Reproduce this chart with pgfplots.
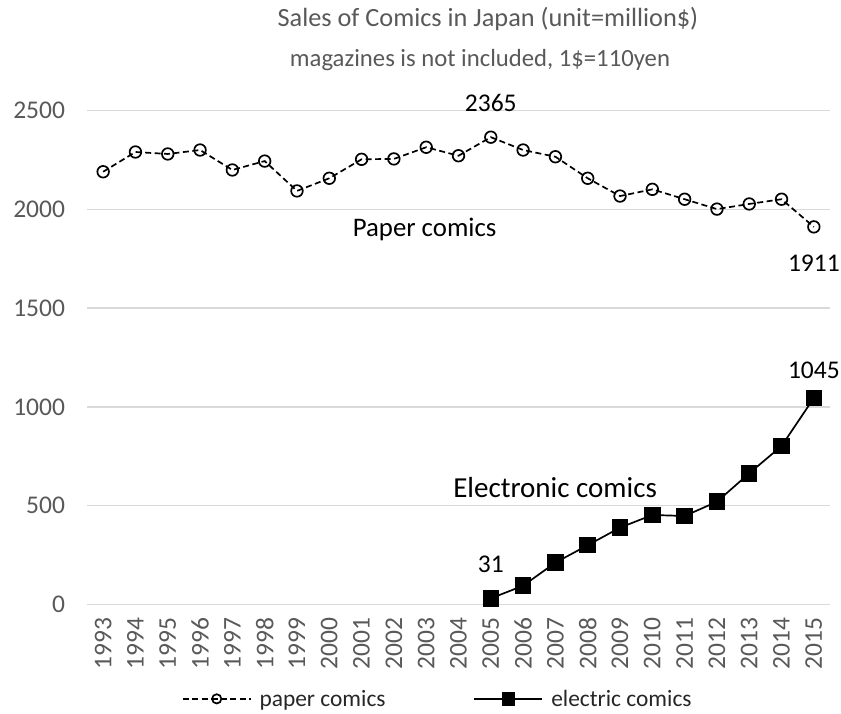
\documentclass[border=0pt]{standalone}
\usepackage{fontspec}
\setmainfont{Carlito}
\usepackage{pgfplots}
\pgfplotsset{compat=1.18}
\definecolor{txtgray}{HTML}{595959}
\definecolor{gridgray}{HTML}{D9D9D9}
\definecolor{legtxt}{HTML}{262626}
\begin{document}
\begin{tikzpicture}
\path[use as bounding box] (-87bp,-109.5bp) rectangle (754bp,604.5bp);
\begin{axis}[
  scale only axis, width=743bp, height=494bp,
  xmin=1992.5, xmax=2015.5, ymin=0, ymax=2500,
  xtick={1993,...,2015}, ytick={0,500,...,2500},
  ymajorgrids, grid style={gridgray, line width=1.3bp},
  axis line style={draw=none}, major tick style={draw=none},
  clip=false,
  /pgf/number format/1000 sep={},
  /pgf/number format/assume math mode=true,
  x tick label style={rotate=90, anchor=east, font=\fontsize{25.5bp}{30bp}\selectfont, text=txtgray},
  y tick label style={font=\fontsize{25.5bp}{30bp}\selectfont, text=txtgray},
  xticklabel shift=10bp, yticklabel shift=18.5bp,
  legend columns=2,
  legend style={at={(axis description cs:0.472,-0.191)}, anchor=center, draw=none, fill=none,
    inner sep=1bp, nodes={inner sep=2bp},
    font=\fontsize{23.4bp}{28bp}\selectfont, text=legtxt,
    /tikz/every odd column/.append style={column sep=6bp},
    /tikz/every even column/.append style={column sep=86bp}},
  legend image code/.code={\draw[mark repeat=2, mark phase=2, #1] plot coordinates {(0bp,0bp) (34bp,0bp) (68bp,0bp)};},
  legend image post style={every mark/.append style={scale=0.8}},
]
\addplot[black, line width=1.7bp, dash pattern=on 6bp off 3.5bp,
  mark=o, mark size=5.8bp, mark options={solid, line width=1.7bp}]
  coordinates {(1993,2190)(1994,2290)(1995,2280)(1996,2300)(1997,2199)(1998,2244)
  (1999,2093)(2000,2157)(2001,2253)(2002,2255)(2003,2314)(2004,2271)(2005,2365)
  (2006,2300)(2007,2266)(2008,2157)(2009,2067)(2010,2101)(2011,2051)(2012,2001)
  (2013,2027)(2014,2051)(2015,1911)};
\addlegendentry{paper comics}
\addplot[black, line width=1.7bp, mark=square*, mark size=7.4bp, mark options={solid}]
  coordinates {(2005,31)(2006,95)(2007,212)(2008,300)(2009,389)(2010,453)(2011,448)
  (2012,520)(2013,664)(2014,802)(2015,1045)};
\addlegendentry{electric comics}
\node[anchor=base, font=\fontsize{25.5bp}{30bp}\selectfont] at (axis cs:2005,2494) {2365};
\node[anchor=base, font=\fontsize{25.5bp}{30bp}\selectfont] at (axis cs:2015,1683) {1911};
\node[anchor=base, font=\fontsize{25.5bp}{30bp}\selectfont] at (axis cs:2015,1146) {1045};
\node[anchor=base, font=\fontsize{25.5bp}{30bp}\selectfont] at (axis cs:2005,160) {31};
\node[anchor=base, font=\fontsize{26.8bp}{31bp}\selectfont] at (axis cs:2002.95,1860) {Paper comics};
\node[anchor=base, font=\fontsize{29bp}{34bp}\selectfont] at (axis cs:2006.99,544) {Electronic comics};
\end{axis}
\node[anchor=base, text=txtgray, font=\fontsize{26.3bp}{31bp}\selectfont] at (401bp,577.5bp) {Sales of Comics in Japan (unit=million\$)};
\node[anchor=base, text=txtgray, font=\fontsize{24.7bp}{29bp}\selectfont] at (393bp,537.5bp) {magazines is not included, 1\$=110yen};
\end{tikzpicture}
\end{document}
